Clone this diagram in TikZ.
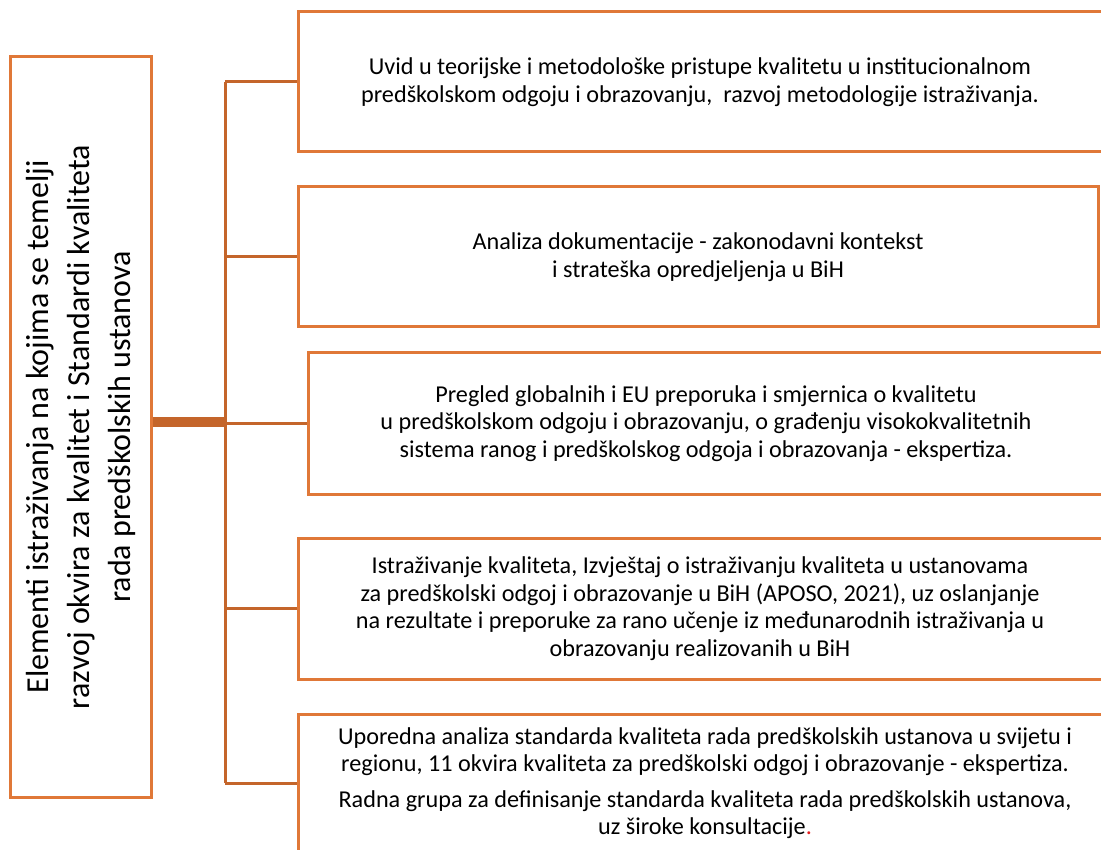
\documentclass[tikz,border=0pt]{standalone}
\usepackage{fontspec}
\setmainfont{Carlito}
\usetikzlibrary{positioning}
\definecolor{boxorange}{RGB}{224,120,56}
\definecolor{linkorange}{RGB}{196,101,42}
\definecolor{dotred}{RGB}{230,30,30}

\begin{document}
\begin{tikzpicture}[x=1pt, y=-1pt,
  mainbox/.style = {draw=boxorange, line width=3pt, rotate=90, minimum width=740pt, minimum height=141pt, inner sep=0pt, align=center, font=\fontsize{32}{41}\selectfont},
  itembox/.style = {draw=boxorange, line width=3pt, minimum width=804pt, minimum height=140pt, inner sep=0pt, align=center, font=\fontsize{24.2}{27.5}\selectfont},
  link/.style = {draw=linkorange, line width=3pt}]
\useasboundingbox (0,0) rectangle (1101,850);
\clip (0,0) rectangle (1101,850);
\node[mainbox] (elem) at (80.5,427) {Elementi istraživanja na kojima se temelji\\ razvoj okvira za kvalitet i Standardi kvaliteta\\ rada predškolskih ustanova};
\node[itembox] (b1) at (700,82) {Uvid u teorijske i metodološke pristupe kvalitetu u institucionalnom\\ predškolskom odgoju i obrazovanju, \ razvoj metodologije istraživanja.};
\node[itembox, minimum width=800pt, minimum height=140pt] (b2) at (698,257) {Analiza dokumentacije - zakonodavni kontekst\\ i strateška opredjeljenja u BiH};
\node[itembox, minimum width=796pt, minimum height=141pt] (b3) at (706,423.5) {Pregled globalnih i EU preporuka i smjernica o kvalitetu\\ u predškolskom odgoju i obrazovanju, o građenju visokokvalitetnih\\ sistema ranog i predškolskog odgoja i obrazovanja - ekspertiza.};
\node[itembox, minimum height=141pt] (b4) at (700,608.5) {Istraživanje kvaliteta, Izvještaj o istraživanju kvaliteta u ustanovama\\ za predškolski odgoj i obrazovanje u BiH (APOSO, 2021), uz oslanjanje\\ na rezultate i preporuke za rano učenje iz međunarodnih istraživanja u\\ obrazovanju realizovanih u BiH};
\node[itembox, minimum width=814pt, minimum height=138pt] (b5) at (705,783) {Uporedna analiza standarda kvaliteta rada predškolskih ustanova u svijetu i\\ regionu, 11 okvira kvaliteta za predškolski odgoj i obrazovanje - ekspertiza.\\[8pt] Radna grupa za definisanje standarda kvaliteta rada predškolskih ustanova,\\ uz široke konsultacije\textcolor{dotred}{.}};
% trunk
\coordinate (hub) at (225,422);
\coordinate (top) at (225,82);
\coordinate (bot) at (225,783);
\draw[link, line width=10pt] (elem.south |- hub) -- (hub);
\draw[link] (top) -- (bot);
\draw[link] (top) -- (b1.west);
\draw[link] (top |- b2.west) -- (b2.west);
\draw[link] (top |- b3.west) -- (b3.west);
\draw[link] (top |- b4.west) -- (b4.west);
\draw[link] (bot) -- (b5.west);
\end{tikzpicture}
\end{document}
